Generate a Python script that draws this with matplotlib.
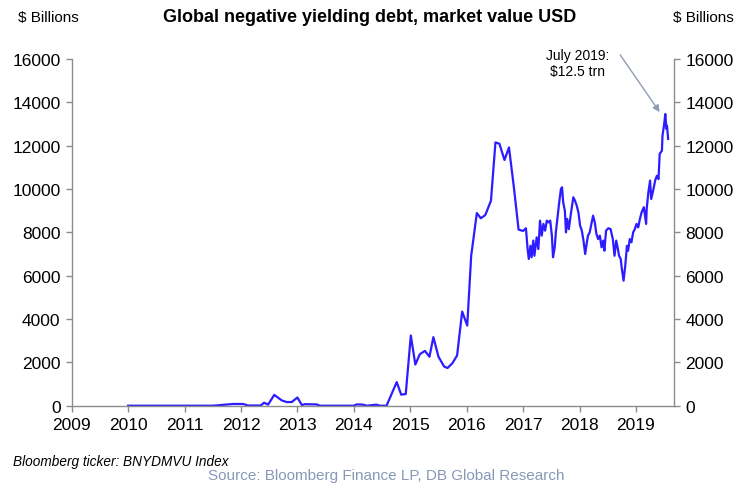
import matplotlib.pyplot as plt

plt.rcParams['font.family'] = ['Liberation Sans', 'DejaVu Sans']

# Global negative yielding debt, market value ($ bn), by decimal year
years = [
    2010.00, 2010.50, 2011.00, 2011.50, 2011.86, 2012.04, 2012.12, 2012.35,
    2012.41, 2012.48, 2012.59, 2012.72, 2012.81, 2012.90, 2013.00, 2013.08,
    2013.13, 2013.34, 2013.40, 2014.00, 2014.05, 2014.16, 2014.23, 2014.40,
    2014.46, 2014.58, 2014.76, 2014.84, 2014.92, 2015.01, 2015.09, 2015.17,
    2015.26, 2015.34, 2015.41, 2015.50, 2015.60, 2015.66, 2015.75, 2015.83,
    2015.92, 2016.01, 2016.08, 2016.18, 2016.25, 2016.33, 2016.43, 2016.51,
    2016.58, 2016.67, 2016.75, 2016.84, 2016.92, 2017.00, 2017.05, 2017.08,
    2017.10, 2017.13, 2017.15, 2017.18, 2017.20, 2017.24, 2017.27, 2017.30,
    2017.33, 2017.36, 2017.39, 2017.42, 2017.45, 2017.48, 2017.51, 2017.53,
    2017.56, 2017.58, 2017.61, 2017.64, 2017.67, 2017.69, 2017.71, 2017.74,
    2017.76, 2017.78, 2017.81, 2017.85, 2017.89, 2017.92, 2017.95, 2017.98,
    2018.01, 2018.04, 2018.07, 2018.10, 2018.13, 2018.15, 2018.18, 2018.21,
    2018.24, 2018.27, 2018.30, 2018.33, 2018.36, 2018.39, 2018.42, 2018.44,
    2018.47, 2018.51, 2018.55, 2018.59, 2018.62, 2018.65, 2018.68, 2018.70,
    2018.73, 2018.75, 2018.78, 2018.81, 2018.84, 2018.86, 2018.89, 2018.92,
    2018.95, 2018.98, 2019.01, 2019.04, 2019.07, 2019.10, 2019.14, 2019.18,
    2019.19, 2019.22, 2019.25, 2019.27, 2019.31, 2019.34, 2019.37, 2019.40,
    2019.42, 2019.46, 2019.47, 2019.50, 2019.52, 2019.54, 2019.55, 2019.57,
]
debt_bn = [
    0, 0, 0, 0, 80, 80, 10, 10,
    140, 50, 500, 250, 170, 170, 380, 30,
    70, 60, 0, 0, 60, 50, 0, 50,
    0, 0, 1090, 510, 540, 3240, 1900, 2380,
    2530, 2260, 3165, 2260, 1810, 1740, 1970, 2320,
    4345, 3700, 6925, 8890, 8650, 8800, 9460, 12150,
    12090, 11340, 11920, 10000, 8125, 8065, 8190, 7230,
    6770, 7380, 6850, 7620, 6920, 7770, 7230, 8540,
    7850, 8390, 8080, 8540, 8460, 8540, 7850, 6850,
    7300, 8000, 8700, 9390, 10000, 10080, 9390, 9000,
    8000, 8620, 8150, 8925, 9620, 9460, 9230, 8925,
    8310, 8080, 7620, 7000, 7540, 7850, 8000, 8390,
    8770, 8460, 7920, 7690, 7850, 7310, 7620, 7150,
    8080, 8190, 8150, 7690, 6920, 7620, 7230, 6920,
    6770, 6310, 5770, 6460, 7380, 7150, 7690, 7540,
    8000, 8150, 8390, 8230, 8620, 8925, 9160, 8390,
    9080, 9850, 10390, 9540, 10000, 10390, 10610, 10460,
    11620, 11770, 12460, 13000, 13460, 12770, 12920, 12310,
]

year_ticks = list(range(2009, 2020))
value_ticks = list(range(0, 16001, 2000))

fig = plt.figure(figsize=(7.39, 4.85), dpi=100)
ax = fig.add_axes([0.097, 0.1614, 0.8155, 0.7149])

ax.plot(years, debt_bn, color='#2d1cff', linewidth=1.6)

ax.set_xlim(2009, 2019.68)
ax.set_ylim(0, 16000)
ax.set_xticks(year_ticks)
ax.set_yticks(value_ticks)

spine_grey = '#8c8c8c'
for side in ['left', 'right', 'bottom']:
    ax.spines[side].set_color(spine_grey)
    ax.spines[side].set_linewidth(1.0)
ax.spines['top'].set_visible(False)

ax.tick_params(axis='both', which='both', direction='out', length=4,
               width=1.0, color=spine_grey, labelsize=12.5, pad=4)
ax.tick_params(axis='y', right=True, labelright=True)

# header and footer text
fig.text(0.024, 0.963, '$ Billions', fontsize=11, ha='left', va='center')
fig.text(0.993, 0.963, '$ Billions', fontsize=11, ha='right', va='center')
fig.text(0.5, 0.963, 'Global negative yielding debt, market value USD',
         fontsize=13, fontweight='bold', ha='center', va='center')
fig.text(0.018, 0.047, 'Bloomberg ticker: BNYDMVU Index', fontsize=9.8,
         style='italic', ha='left', va='center')
fig.text(0.523, 0.018, 'Source: Bloomberg Finance LP, DB Global Research',
         fontsize=11, color='#8799b8', ha='center', va='center')

# July 2019 peak callout
ax.text(2017.97, 15800, 'July 2019:\n$12.5 trn', fontsize=10,
        ha='center', va='center', linespacing=1.2)
ax.annotate('', xy=(2019.42, 13550), xytext=(2018.72, 16190),
            annotation_clip=False,
            arrowprops=dict(arrowstyle='-|>', color='#8d9db8', lw=1.0,
                            shrinkA=0, shrinkB=0, mutation_scale=10))

plt.savefig('out.png', dpi=100)
